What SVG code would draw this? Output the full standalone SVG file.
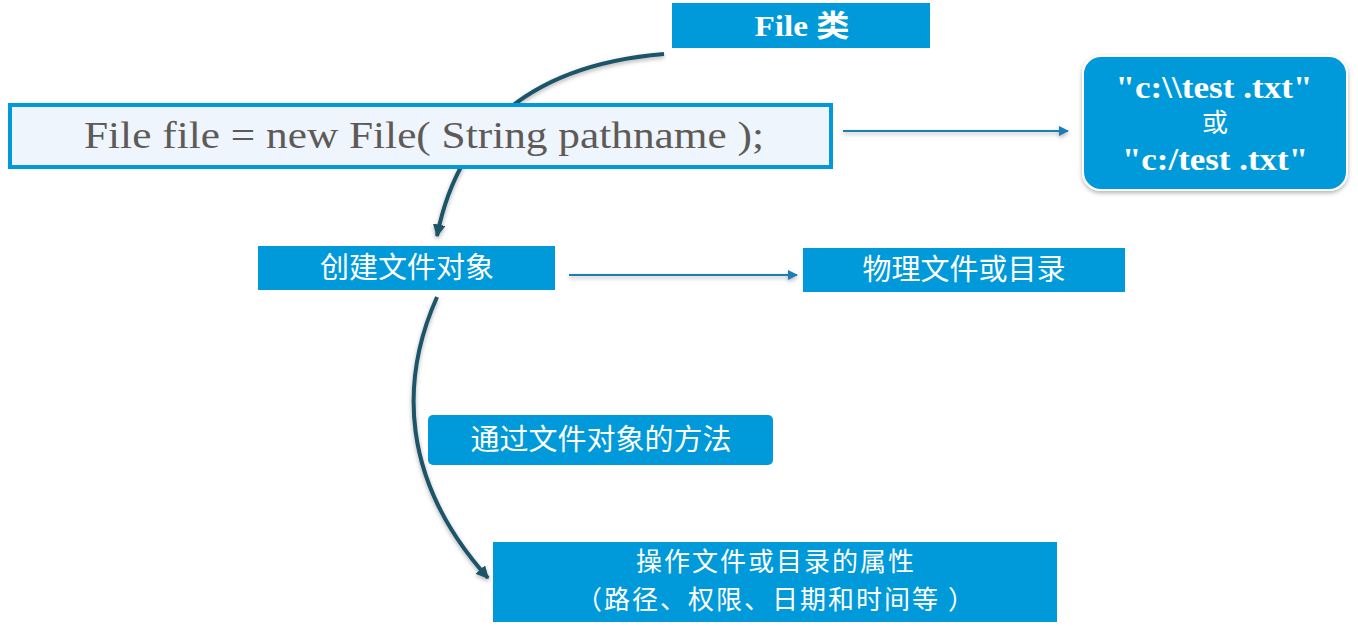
<svg xmlns="http://www.w3.org/2000/svg" width="1358" height="626" viewBox="0 0 1358 626">
<defs>
<marker id="ah" viewBox="0 0 10 10" refX="9" refY="5" markerWidth="3.2" markerHeight="3.2" orient="auto" markerUnits="strokeWidth"><path d="M0,0 L10,5 L0,10 z" fill="#1F5468"/></marker>
<marker id="ab" viewBox="0 0 10 10" refX="9" refY="5" markerWidth="5" markerHeight="5" orient="auto" markerUnits="strokeWidth"><path d="M0,0 L10,5 L0,10 z" fill="#1B7DB5"/></marker>
<filter id="sh" x="-10%" y="-10%" width="120%" height="130%"><feDropShadow dx="0" dy="2" stdDeviation="2" flood-color="#000" flood-opacity="0.3"/></filter>
</defs>
<style>
.box{fill:#009ADA}
.cn{font-family:"Noto Sans CJK SC",sans-serif;font-size:29px;fill:#fff;text-anchor:middle}
.bs{font-family:"Liberation Serif","Noto Sans CJK SC",serif;font-weight:bold;fill:#fff;text-anchor:middle}
.curve{fill:none;stroke:#1F5468;stroke-width:4;marker-end:url(#ah)}
.line{fill:none;stroke:#1B7DB5;stroke-width:2;marker-end:url(#ab)}
</style>
<g id="connectors" filter="url(#sh)">
<path class="curve" d="M664,54 Q470,70 437,236"/>
<path class="curve" d="M437,297 C400,380 400,480 488,578"/>
<path class="line" d="M843,131 L1068,131"/>
<path class="line" d="M569,275 L797,275"/>
</g>
<g id="fileclass">
<rect class="box" x="672" y="3" width="258" height="45"/>
<text class="bs" x="802" y="36" font-size="30" textLength="95" lengthAdjust="spacingAndGlyphs">File 类</text>
</g>
<g id="code">
<rect x="10" y="105" width="821" height="62" fill="#EEF5FC" stroke="#009ADA" stroke-width="4"/>
<text x="424" y="148" font-family="Liberation Serif,serif" font-size="38" fill="#5E5A58" text-anchor="middle" textLength="680" lengthAdjust="spacingAndGlyphs">File file = new File( String pathname );</text>
</g>
<g id="pathname">
<rect x="1083" y="56" width="264" height="134" rx="18" fill="#009ADA" stroke="#fff" stroke-width="2" filter="url(#sh)"/>
<text class="bs" x="1214" y="98" font-size="32" textLength="197" lengthAdjust="spacingAndGlyphs">"c:\\test .txt"</text>
<text x="1215" y="132" font-family="Noto Sans CJK SC,sans-serif" font-size="26" fill="#fff" text-anchor="middle">或</text>
<text class="bs" x="1215" y="170" font-size="32" textLength="186" lengthAdjust="spacingAndGlyphs">"c:/test .txt"</text>
</g>
<g id="create">
<rect class="box" x="258" y="246" width="297" height="44"/>
<text class="cn" x="407" y="278">创建文件对象</text>
</g>
<g id="physical">
<rect class="box" x="803" y="248" width="322" height="44"/>
<text class="cn" x="964" y="280">物理文件或目录</text>
</g>
<g id="method">
<rect class="box" x="428" y="415" width="345" height="50" rx="5"/>
<text class="cn" x="601" y="450">通过文件对象的方法</text>
</g>
<g id="attr">
<rect class="box" x="493" y="542" width="564" height="80"/>
<text class="cn" x="776" y="571" style="font-size:26px;letter-spacing:2px">操作文件或目录的属性</text>
<text class="cn" x="776" y="609" style="font-size:26px;letter-spacing:2px">（路径、权限、日期和时间等 ）</text>
</g>
</svg>
